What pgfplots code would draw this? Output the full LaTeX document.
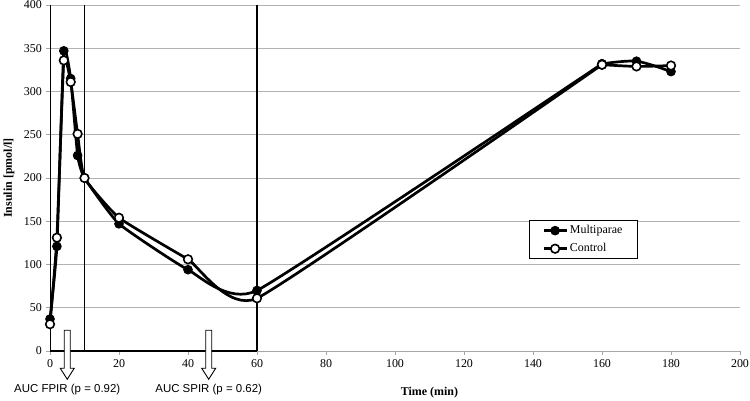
\documentclass[border=0pt]{standalone}
\usepackage{fontspec}
\setmainfont{Liberation Serif}
\setsansfont{Liberation Sans}
\usepackage{pgfplots}
\usepackage{pgfplotstable}
\pgfplotsset{compat=1.18}

\pgfplotstableread{
t   multi  ctrl
0   37     31
2   121    131
4   347    336
6   315    311
8   226    251
10  200    200
20  147    154
40  94     106
60  70     61
160 332    331
170 335    329
180 323    330
}\insulin

% hollow block arrow pointing down, top at (#1,24)
\newcommand{\aucarrow}[1]{%
  \draw[black, line width=0.9pt, fill=white]
    ([xshift=-3bp]axis cs:#1,24) -- ([xshift=3bp]axis cs:#1,24)
    -- ([xshift=3bp,yshift=-38bp]axis cs:#1,24)
    -- ([xshift=7bp,yshift=-38bp]axis cs:#1,24)
    -- ([yshift=-49bp]axis cs:#1,24)
    -- ([xshift=-7bp,yshift=-38bp]axis cs:#1,24)
    -- ([xshift=-3bp,yshift=-38bp]axis cs:#1,24) -- cycle;}

\begin{document}
\fontsize{12}{14}\selectfont
\begin{tikzpicture}
\path[use as bounding box] (0,0) rectangle (750bp,401bp);
\begin{axis}[
  at={(50bp,50bp)}, anchor=south west,
  width=690bp, height=346bp, scale only axis,
  xmin=0, xmax=200, ymin=0, ymax=400,
  xtick={0,20,...,200}, ytick={0,50,...,400},
  axis lines=left, axis line style={-},
  x axis line style={gray!70},
  y axis line style={black, line width=1pt},
  ymajorgrids, grid style={gray!60, line width=0.9pt},
  tick style={gray!70, line width=0.8pt}, tick align=outside,
  major tick length=4bp,
  ticklabel style={font=\fontsize{12}{14}\selectfont},
  /pgf/number format/assume math mode=true,
  clip=false,
  legend style={at={(0.694,0.378)}, anchor=north west, draw=black,
    line width=0.8pt, font=\fontsize{12}{14}\selectfont,
    inner xsep=13bp, inner ysep=3bp, row sep=4bp},
  legend cell align=left,
  legend image code/.code={\draw[mark repeat=2, mark phase=2, #1]
    plot coordinates {(0bp,0bp) (11.5bp,0bp) (23bp,0bp)};},
  multi/.style={black, line width=2.7pt, smooth, tension=0.25,
    mark=*, mark size=4.3bp, mark options={fill=black, line width=1pt}},
  ctrl/.style={black, line width=2.7pt, smooth, tension=0.25,
    mark=*, mark size=4.3bp, mark options={fill=white, line width=1.6pt}},
]
% FPIR / SPIR boxes
\draw[black, line width=1.2pt] (axis cs:0,0) -- (axis cs:60,0);
\draw[black, line width=1.2pt] (axis cs:10,0) -- (axis cs:10,400);
\draw[black, line width=1.2pt] (axis cs:60,0) -- (axis cs:60,400);

\addplot[multi, restrict x to domain=0:160] table[x=t, y=multi] {\insulin};
\addlegendentry{Multiparae}
\addplot[multi, tension=0.5, restrict x to domain=160:180, forget plot] table[x=t, y=multi] {\insulin};
\addplot[ctrl, restrict x to domain=0:160] table[x=t, y=ctrl] {\insulin};
\addlegendentry{Control}
\addplot[ctrl, tension=0.5, restrict x to domain=160:180, forget plot] table[x=t, y=ctrl] {\insulin};

\aucarrow{5}
\aucarrow{46}
\node[font=\sffamily\fontsize{11.5}{13}\selectfont] at ([yshift=-39bp]axis cs:5,0) {AUC FPIR (p = 0.92)};
\node[font=\sffamily\fontsize{11.5}{13}\selectfont] at ([yshift=-39bp]axis cs:46,0) {AUC SPIR (p = 0.62)};
\node[font=\bfseries\fontsize{12}{14}\selectfont] at ([yshift=-42bp]axis cs:110,0) {Time (min)};
\node[font=\bfseries\fontsize{12}{14}\selectfont, rotate=90] at ([xshift=-41bp]axis cs:0,200) {Insulin [pmol/l]};
\end{axis}
\end{tikzpicture}
\end{document}
